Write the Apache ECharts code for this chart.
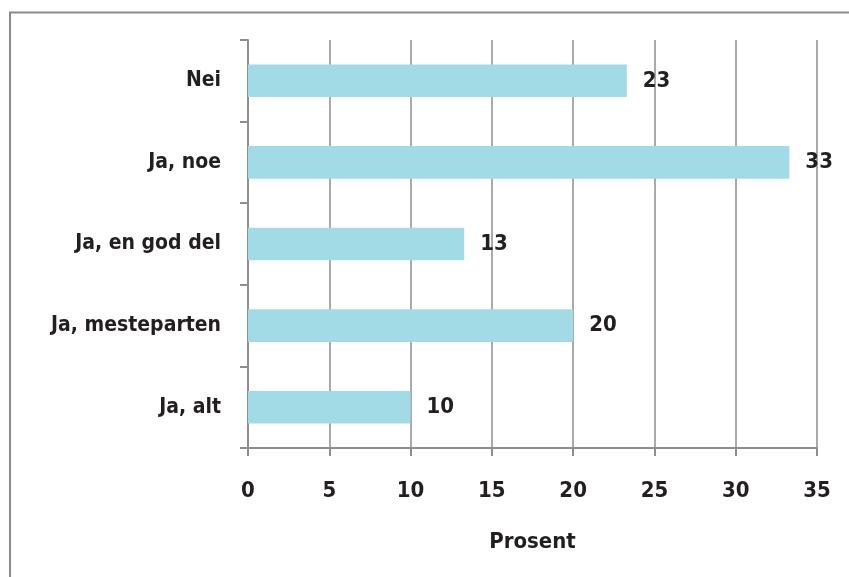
<!DOCTYPE html>
<html>
<head>
<meta charset="utf-8">
<script src="https://cdn.jsdelivr.net/npm/echarts@6/dist/echarts.min.js"></script>
<style>
  html,body{margin:0;padding:0;background:#fff;}
  #chart{width:849px;height:577px;}
</style>
</head>
<body>
<div id="chart"></div>
<script>
var categories = ['Nei', 'Ja, noe', 'Ja, en god del', 'Ja, mesteparten', 'Ja, alt'];
var values = [23.3, 33.3, 13.3, 20, 10];
var xTicks = [0, 5, 10, 15, 20, 25, 30, 35];

var FONT = '"DejaVu Sans Condensed", "Liberation Sans Narrow", sans-serif';
var TXT = '#231f20';
var GRAY = '#8e8e8e';

var chart = echarts.init(document.getElementById('chart'));
chart.setOption({
  animation: false,
  backgroundColor: '#fff',
  graphic: [{
    type: 'rect',
    shape: {x: 10, y: 12.5, width: 900, height: 700},
    style: {fill: 'none', stroke: '#8a8a8a', lineWidth: 2},
    silent: true
  }],
  grid: {left: 248, right: 32, top: 40, bottom: 129},
  xAxis: {
    type: 'value',
    min: xTicks[0],
    max: xTicks[xTicks.length - 1],
    interval: 5,
    name: 'Prosent',
    nameLocation: 'middle',
    nameGap: 83,
    nameTextStyle: {fontFamily: FONT, fontWeight: 'bold', fontSize: 22, color: TXT},
    axisLine: {show: true, lineStyle: {color: GRAY, width: 2}},
    axisTick: {show: true, length: 8, lineStyle: {color: GRAY, width: 2}},
    axisLabel: {margin: 32, fontFamily: FONT, fontWeight: 'bold', fontSize: 22, color: TXT},
    splitLine: {show: true, lineStyle: {color: GRAY, width: 1.5}}
  },
  yAxis: {
    type: 'category',
    data: categories,
    inverse: true,
    axisLine: {show: true, lineStyle: {color: GRAY, width: 2}},
    axisTick: {show: true, length: 8, lineStyle: {color: GRAY, width: 2}},
    axisLabel: {margin: 27, fontFamily: FONT, fontWeight: 'bold', fontSize: 21, color: TXT},
    splitLine: {show: false}
  },
  series: [{
    type: 'bar',
    data: values,
    barWidth: '40%',
    itemStyle: {color: '#a2dbe6'},
    label: {
      show: true,
      position: 'right',
      distance: 16,
      fontFamily: FONT,
      fontWeight: 'bold',
      fontSize: 22,
      color: TXT,
      formatter: function (p) { return Math.round(p.value); }
    }
  }]
});
</script>
</body>
</html>
